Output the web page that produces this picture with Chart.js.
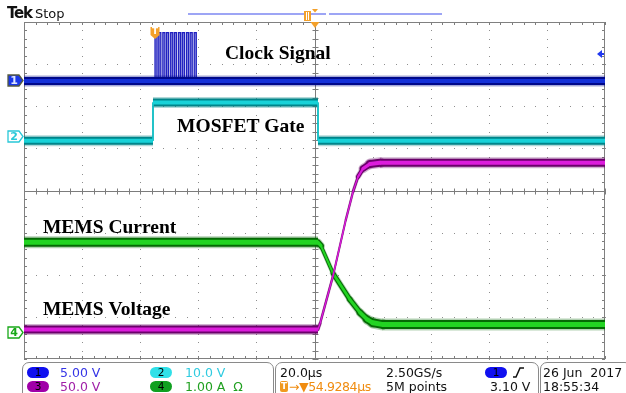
<!DOCTYPE html>
<html>
<head>
<meta charset="utf-8">
<script src="https://cdn.jsdelivr.net/npm/chart.js@4.4.1/dist/chart.umd.min.js"></script>
<style>
    body { margin: 0; background: #fff; }
    #wrap { position: relative; width: 626px; height: 393px; overflow: hidden; font-family: "DejaVu Sans", sans-serif; }
    #scope { position: absolute; left: 0; top: 0; }
    .abs { position: absolute; white-space: nowrap; }
    .tek { left: 7px; top: 4px; font-weight: bold; font-size: 15px; letter-spacing: -1.2px; color: #111; }
    .stop { left: 35px; top: 6px; font-size: 13px; color: #111; }
    .box { position: absolute; top: 362px; height: 40px; border: 1px solid #8a8a8a; border-radius: 7px; }
    .txt { position: absolute; white-space: nowrap; font-size: 12.5px; line-height: 13px; }
    .r1 { top: 366px; }
    .r2 { top: 380px; }
    .pill { position: absolute; width: 22px; height: 11px; border-radius: 6px; font-size: 10.5px; line-height: 11px; text-align: center; color: #000; }
</style>
</head>
<body>
<div id="wrap">
    <canvas id="scope" width="626" height="393"></canvas>
    <div class="abs tek">Tek</div>
    <div class="abs stop">Stop</div>

    <div class="box" style="left:22px;width:250px"></div>
    <div class="box" style="left:275px;width:262px"></div>
    <div class="box" style="left:540px;width:90px"></div>

    <div class="pill" style="left:27px;top:367px;background:#1010f0">1</div>
    <div class="txt r1" style="left:60px;color:#3434e6">5.00 V</div>
    <div class="pill" style="left:150px;top:367px;background:#30e0e8">2</div>
    <div class="txt r1" style="left:185px;color:#30cbe0">10.0 V</div>
    <div class="pill" style="left:27px;top:381px;background:#a000a8">3</div>
    <div class="txt r2" style="left:60px;color:#a020a8">50.0 V</div>
    <div class="pill" style="left:150px;top:381px;background:#10a020">4</div>
    <div class="txt r2" style="left:185px;color:#20a020">1.00 A&nbsp;&nbsp;Ω</div>

    <div class="txt r1" style="left:280px;color:#111">20.0µs</div>
    <div class="txt r1" style="left:386px;color:#111">2.50GS/s</div>
    <div class="pill" style="left:485px;top:367px;background:#1010f0">1</div>
    <svg class="abs" style="left:510px;top:366px" width="18" height="13"><path d="M3 11 L6 11 L10 2 L14 2" fill="none" stroke="#111" stroke-width="1.5"/></svg>
    <div class="abs" style="left:280px;top:381px;width:8px;height:11px;background:#f09a20;border-radius:2px;color:#fff;font-size:9px;line-height:11px;text-align:center;font-weight:bold">T</div>
    <div class="txt r2" style="left:289px;color:#f08c10;letter-spacing:-0.4px">→▼54.9284µs</div>
    <div class="txt r2" style="left:386px;color:#111">5M points</div>
    <div class="txt r2" style="left:490px;color:#111">3.10 V</div>

    <div class="txt r1" style="left:543px;color:#111">26 Jun&nbsp;&nbsp;2017</div>
    <div class="txt r2" style="left:543px;color:#111">18:55:34</div>
</div>
<script>
// time in µs across the 10 divisions (20 µs/div), level in divisions
const ch1Time = [0, 200]
const ch1Div = [2.6, 2.6]

const clockLow = 2.6
const clockHigh = 3.75
const clockRise = [45.1, 46.4, 47.8, 49.1, 50.5, 51.8, 53.2, 54.5, 55.9, 57.2, 58.6]
const clockFall = [45.8, 47.1, 48.5, 49.8, 51.2, 52.5, 53.9, 55.2, 56.6, 57.9, 59.3]

const ch2Time = [0, 44.4, 44.4, 101.2, 101.2, 200]
const ch2Div = [1.18, 1.18, 2.09, 2.09, 1.18, 1.18]

const ch3Time = [0, 101.2, 101.9, 106.4, 110.8, 113.3, 115.0, 116.7, 119.1, 122.5, 200]
const ch3Div = [-3.3, -3.3, -3.16, -2.02, -0.69, -0.02, 0.33, 0.52, 0.63, 0.66, 0.66]

const ch4Time = [0, 101.2, 102.2, 106.4, 112.2, 115.7, 118.1, 120.1, 123.2, 200]
const ch4Div = [-1.23, -1.23, -1.31, -1.97, -2.59, -2.90, -3.06, -3.14, -3.18, -3.18]

// ground markers on the left edge: ch1, ch2, ch4
const markerDiv = [2.62, 1.3, -3.36]

const labels = [
    { text: 'Clock Signal', t: 69.2, v: 3.11 },
    { text: 'MOSFET Gate', t: 52.7, v: 1.38 },
    { text: 'MEMS Current', t: 6.5, v: -1.0 },
    { text: 'MEMS Voltage', t: 6.5, v: -2.95 }
]

const pts = (ts, vs) => ts.map((t, i) => ({ x: t, y: vs[i] }))

function clockPts() {
    let out = []
    clockRise.forEach((r, i) => {
        out.push({ x: r, y: clockLow }, { x: r, y: clockHigh },
            { x: clockFall[i], y: clockHigh }, { x: clockFall[i], y: clockLow })
    })
    return out
}

// noise band: constant vertical height, so thinner on the slopes
function bandWidth(c, w) {
    let dx = Math.abs(c.p1.x - c.p0.x), dy = Math.abs(c.p1.y - c.p0.y)
    let len = Math.hypot(dx, dy) || 1
    return Math.max(1.4, w * dx / len)
}
function bandCap(c) {
    let dx = Math.abs(c.p1.x - c.p0.x), dy = Math.abs(c.p1.y - c.p0.y)
    return dx > 0.5 && dy > 0.5 ? 'round' : 'butt'
}

function trace(data, fringe, dark, bright, wOut, wIn) {
    const line = (color, w) => ({
        data: data,
        borderColor: color,
        borderWidth: w,
        pointRadius: 0,
        tension: 0,
        clip: 0,
        borderJoinStyle: 'miter',
        segment: {
            borderWidth: c => bandWidth(c, w),
            borderCapStyle: c => bandCap(c)
        }
    })
    return [line(fringe, wOut + 3), line(dark, wOut), line(bright, wIn)]
}

let datasets = [
    {
        data: clockPts(),
        borderColor: '#2020c0',
        borderWidth: 1.3,
        pointRadius: 0,
        fill: { value: clockLow },
        backgroundColor: '#a0a2e4',
        clip: 0
    },
    ...trace(pts(ch1Time, ch1Div), 'rgba(0,10,140,0.35)', '#00088a', '#1430d8', 8, 4),
    ...trace(pts(ch2Time, ch2Div), 'rgba(0,130,130,0.3)', '#00858a', '#18d2d8', 8, 4),
    ...trace(pts(ch4Time, ch4Div), 'rgba(0,100,0,0.3)', '#046a04', '#22d422', 9, 5),
    ...trace(pts(ch3Time, ch3Div), 'rgba(100,0,100,0.3)', '#6a006a', '#dc1cdc', 8, 4)
]
// first listed drawn first
datasets.forEach((d, i) => { d.order = -i })

const scopeGrid = {
    id: 'scopeGrid',
    beforeDatasetsDraw(chart) {
        const { ctx, chartArea: a, scales: { x, y } } = chart
        ctx.save()
        // dotted graticule
        ctx.fillStyle = '#8e8e8e'
        for (let d = 1; d < 10; d++) {
            if (d == 5) continue
            let px = Math.round(x.getPixelForValue(d * 20))
            for (let s = 0; s <= 40; s++) {
                ctx.fillRect(px, Math.round(y.getPixelForValue(-4 + s * 0.2)), 1, 1)
            }
        }
        for (let d = -3; d <= 3; d++) {
            if (d == 0) continue
            let py = Math.round(y.getPixelForValue(d))
            for (let s = 0; s <= 50; s++) {
                ctx.fillRect(Math.round(x.getPixelForValue(s * 4)), py, 1, 1)
            }
        }
        // center cross and frame
        ctx.strokeStyle = '#7c7c7c'
        ctx.lineWidth = 1
        let cx = Math.round(x.getPixelForValue(100)) + 0.5
        let cy = Math.round(y.getPixelForValue(0)) + 0.5
        ctx.beginPath()
        ctx.moveTo(cx, a.top); ctx.lineTo(cx, a.bottom)
        ctx.moveTo(a.left, cy); ctx.lineTo(a.right, cy)
        for (let s = 0; s <= 50; s++) {
            let px = Math.round(x.getPixelForValue(s * 4)) + 0.5
            ctx.moveTo(px, cy - 3); ctx.lineTo(px, cy + 3)
            ctx.moveTo(px, a.top); ctx.lineTo(px, a.top + 3)
            ctx.moveTo(px, a.bottom); ctx.lineTo(px, a.bottom - 3)
        }
        for (let s = 0; s <= 40; s++) {
            let py = Math.round(y.getPixelForValue(-4 + s * 0.2)) + 0.5
            ctx.moveTo(cx - 3, py); ctx.lineTo(cx + 3, py)
            ctx.moveTo(a.left, py); ctx.lineTo(a.left + 3, py)
            ctx.moveTo(a.right, py); ctx.lineTo(a.right - 3, py)
        }
        ctx.stroke()
        ctx.strokeStyle = '#808080'
        ctx.strokeRect(Math.round(a.left) + 0.5, Math.round(a.top) + 0.5,
            Math.round(a.right - a.left) - 1, Math.round(a.bottom - a.top) - 1)
        ctx.restore()
    }
}

const scopeDecor = {
    id: 'scopeDecor',
    afterDraw(chart) {
        const { ctx, chartArea: a, scales: { x, y } } = chart
        ctx.save()
        // text labels
        ctx.fillStyle = '#000'
        ctx.font = 'bold 19.5px "Liberation Serif", serif'
        ctx.textBaseline = 'alphabetic'
        labels.forEach(l => {
            ctx.fillText(l.text, x.getPixelForValue(l.t), y.getPixelForValue(l.v))
        })

        // channel ground markers
        const marker = (v, txt, fill, stroke, tc) => {
            let py = Math.round(y.getPixelForValue(v)) + 0.5
            ctx.beginPath()
            ctx.moveTo(8, py - 5.5); ctx.lineTo(19, py - 5.5); ctx.lineTo(23, py)
            ctx.lineTo(19, py + 5.5); ctx.lineTo(8, py + 5.5); ctx.closePath()
            ctx.fillStyle = fill; ctx.fill()
            ctx.strokeStyle = stroke; ctx.lineWidth = 1.3; ctx.stroke()
            ctx.fillStyle = tc
            ctx.font = 'bold 11px "DejaVu Sans", sans-serif'
            ctx.textAlign = 'center'; ctx.textBaseline = 'middle'
            ctx.fillText(txt, 14, py + 0.5)
        }
        marker(markerDiv[0], '1', '#1a38e8', '#555a40', '#dfe6ff')
        marker(markerDiv[1], '2', '#ffffff', '#28c8d8', '#28c8d8')
        marker(markerDiv[2], '4', '#ffffff', '#18a818', '#18a818')

        // ch1 offset arrow on the right edge
        let ay = y.getPixelForValue(3.24)
        ctx.fillStyle = '#2038f0'
        ctx.beginPath()
        ctx.moveTo(a.right - 8, ay); ctx.lineTo(a.right - 3, ay - 4); ctx.lineTo(a.right - 3, ay + 4)
        ctx.closePath(); ctx.fill()
        ctx.fillRect(a.right - 4, ay - 1, 3, 2)

        // record view bar at the top
        ctx.strokeStyle = '#7e88f2'
        ctx.lineWidth = 1.5
        ctx.beginPath()
        ctx.moveTo(188, 14); ctx.lineTo(326, 14)
        ctx.moveTo(329, 14); ctx.lineTo(442, 14)
        ctx.stroke()
        ctx.fillStyle = '#f3a02a'
        ctx.fillRect(304, 11, 7, 10)
        ctx.strokeStyle = '#fff'; ctx.lineWidth = 1
        ctx.beginPath(); ctx.moveTo(306.5, 12); ctx.lineTo(306.5, 20); ctx.moveTo(308.5, 12); ctx.lineTo(308.5, 20); ctx.stroke()
        ctx.fillStyle = '#f3a02a'
        ctx.beginPath(); ctx.moveTo(312, 9); ctx.lineTo(318, 9); ctx.lineTo(315, 12.5); ctx.closePath(); ctx.fill()

        // trigger position on the graticule
        let tx = x.getPixelForValue(100) + 0.5
        ctx.beginPath(); ctx.moveTo(tx - 4.5, a.top); ctx.lineTo(tx + 4.5, a.top); ctx.lineTo(tx, a.top + 6); ctx.closePath(); ctx.fill()

        // trigger point marker at the clock start
        let kx = x.getPixelForValue(clockRise[0])
        ctx.beginPath()
        ctx.moveTo(kx - 4.5, 27); ctx.lineTo(kx + 4.5, 27); ctx.lineTo(kx + 4.5, 35)
        ctx.lineTo(kx, 39); ctx.lineTo(kx - 4.5, 35); ctx.closePath(); ctx.fill()
        ctx.fillStyle = '#fff'
        ctx.font = 'bold 9px "DejaVu Sans", sans-serif'
        ctx.textAlign = 'center'; ctx.textBaseline = 'middle'
        ctx.fillText('T', kx, 32)
        ctx.restore()
    }
}

new Chart(document.getElementById('scope'), {
    type: 'line',
    data: { datasets: datasets },
    options: {
        responsive: false,
        devicePixelRatio: 1,
        animation: false,
        events: [],
        parsing: false,
        layout: { padding: { left: 24, right: 21, top: 22, bottom: 34 } },
        scales: {
            x: { type: 'linear', min: 0, max: 200, display: false },
            y: { type: 'linear', min: -4, max: 4, display: false }
        },
        plugins: {
            legend: { display: false },
            tooltip: { enabled: false }
        }
    },
    plugins: [scopeGrid, scopeDecor]
})
</script>
</body>
</html>
